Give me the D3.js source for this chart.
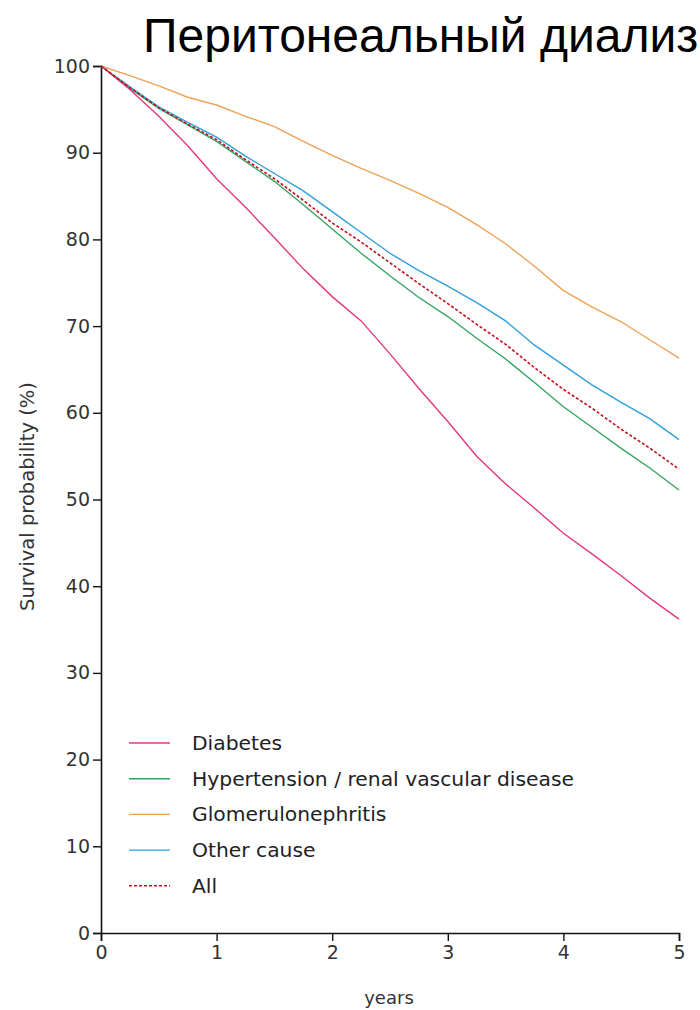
<!DOCTYPE html>
<html>
<head>
<meta charset="utf-8">
<script src="https://cdn.jsdelivr.net/npm/d3@7"></script>
<style>
  html, body { margin: 0; padding: 0; background: #fff; }
  svg { display: block; }
</style>
</head>
<body>
<svg id="chart" width="700" height="1010"></svg>
<script>
// Time points (years since start of peritoneal dialysis)
const years = [0, 0.25, 0.5, 0.75, 1, 1.25, 1.5, 1.75, 2, 2.25, 2.5, 2.75, 3, 3.25, 3.5, 3.75, 4, 4.25, 4.5, 4.75, 5];

// Survival probability (%) by primary renal disease
const diabetes      = [100, 97.3, 94.2, 90.8, 87.0, 83.7, 80.2, 76.6, 73.4, 70.6, 66.8, 62.8, 59.0, 55.0, 51.8, 49.0, 46.1, 43.7, 41.2, 38.6, 36.2];
const hypertension  = [100, 97.4, 95.1, 93.2, 91.3, 89.0, 86.7, 84.0, 81.2, 78.4, 75.8, 73.3, 71.1, 68.6, 66.2, 63.5, 60.7, 58.3, 55.9, 53.6, 51.1];
const glomerulo     = [100, 98.9, 97.7, 96.4, 95.5, 94.2, 93.0, 91.3, 89.7, 88.2, 86.8, 85.3, 83.7, 81.7, 79.5, 76.9, 74.1, 72.2, 70.5, 68.4, 66.3];
const otherCause    = [100, 97.6, 95.3, 93.5, 91.8, 89.6, 87.6, 85.6, 83.2, 80.8, 78.4, 76.4, 74.6, 72.7, 70.6, 67.8, 65.5, 63.2, 61.2, 59.3, 56.9];
const allCauses     = [100, 97.5, 95.2, 93.3, 91.5, 89.2, 87.0, 84.5, 81.9, 79.7, 77.3, 74.9, 72.6, 70.2, 67.9, 65.2, 62.7, 60.5, 58.1, 55.9, 53.5];

const seriesNames = ["Diabetes", "Hypertension / renal vascular disease", "Glomerulonephritis", "Other cause", "All"];
const seriesValues = [diabetes, hypertension, glomerulo, otherCause, allCauses];
const seriesColors = ["#e2387f", "#35a463", "#eea257", "#2f9fdc", "#c3101e"];
const seriesDash = [null, null, null, null, "3,2"];

const xTicks = [0, 1, 2, 3, 4, 5];
const yTicks = [0, 10, 20, 30, 40, 50, 60, 70, 80, 90, 100];

const title = "Перитонеальный диализ";
const xTitle = "years";
const yTitle = "Survival probability (%)";

const svg = d3.select("#chart");
const margin = { left: 101, right: 21, top: 66, bottom: 77 };
const W = 700, H = 1010;

const x = d3.scaleLinear().domain([0, 5]).range([margin.left, W - margin.right]);
const y = d3.scaleLinear().domain([0, 100]).range([H - margin.bottom, margin.top]);

const tickFont = "'DejaVu Sans', Verdana, sans-serif";

// Title
svg.append("text")
  .attr("x", 143).attr("y", 52)
  .attr("font-family", "'Liberation Sans', Arial, sans-serif")
  .attr("font-size", 48)
  .attr("fill", "#000")
  .text(title);

// Axes
const xAxis = svg.append("g")
  .attr("transform", `translate(0,${y(0)})`)
  .call(d3.axisBottom(x).tickValues(xTicks).tickSize(8).tickPadding(5).tickFormat(d3.format("d")));
const yAxis = svg.append("g")
  .attr("transform", `translate(${x(0)},0)`)
  .call(d3.axisLeft(y).tickValues(yTicks).tickSize(8).tickPadding(3).tickFormat(d3.format("d")));

[xAxis, yAxis].forEach(g => {
  g.select(".domain").attr("stroke", "#111").attr("stroke-width", 1.6);
  g.selectAll(".tick line").attr("stroke", "#111").attr("stroke-width", 1.4);
  g.selectAll(".tick text")
    .attr("font-family", tickFont)
    .attr("font-size", 19)
    .attr("fill", "#333");
});

// Axis titles
svg.append("text")
  .attr("x", x(2.5) - 1).attr("y", 1004)
  .attr("text-anchor", "middle")
  .attr("font-family", tickFont).attr("font-size", 18).attr("fill", "#333")
  .text(xTitle);

svg.append("text")
  .attr("transform", `translate(34,${y(50) - 3}) rotate(-90)`)
  .attr("text-anchor", "middle")
  .attr("font-family", tickFont).attr("font-size", 19.5).attr("fill", "#333")
  .text(yTitle);

// Survival curves
const line = d3.line()
  .x((d, i) => x(years[i]))
  .y(d => y(d))
  .curve(d3.curveLinear);

const order = [2, 3, 1, 0, 4];
order.forEach(k => {
  svg.append("path")
    .datum(seriesValues[k])
    .attr("fill", "none")
    .attr("stroke", seriesColors[k])
    .attr("stroke-width", k === 4 ? 1.6 : 1.4)
    .attr("stroke-dasharray", seriesDash[k])
    .attr("d", line);
});

// Legend
const legend = svg.append("g").attr("transform", "translate(129,743)");
seriesNames.forEach((name, i) => {
  const row = legend.append("g").attr("transform", `translate(0,${i * 35.7})`);
  row.append("line")
    .attr("x1", 0).attr("x2", 41).attr("y1", 0).attr("y2", 0)
    .attr("stroke", seriesColors[i])
    .attr("stroke-width", 1.4)
    .attr("stroke-dasharray", seriesDash[i]);
  row.append("text")
    .attr("x", 63).attr("y", 7)
    .attr("font-family", tickFont).attr("font-size", 20.3).attr("fill", "#222")
    .text(name);
});
</script>
</body>
</html>
